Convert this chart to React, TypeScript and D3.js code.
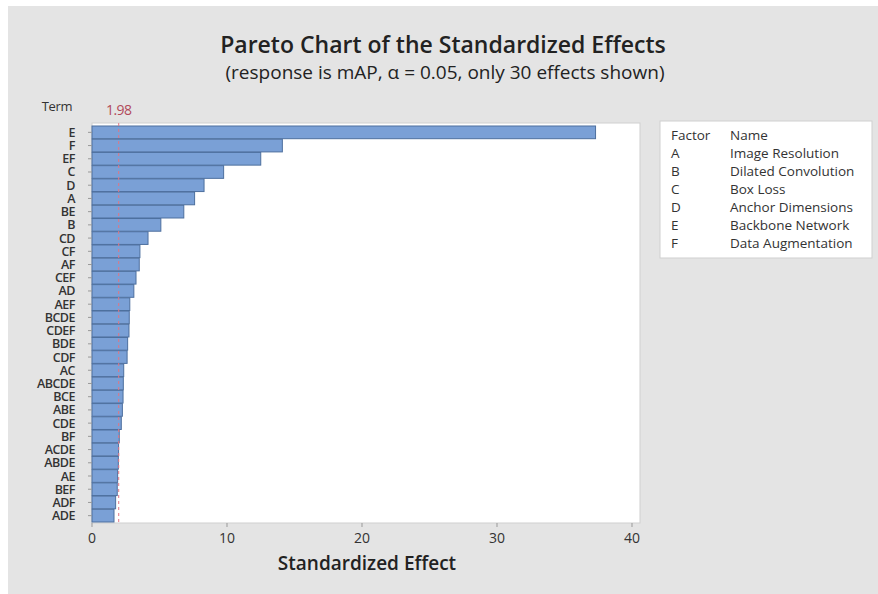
import React from "react";
import * as d3 from "d3";

const terms = ["E","F","EF","C","D","A","BE","B","CD","CF","AF","CEF","AD","AEF","BCDE","CDEF","BDE","CDF","AC","ABCDE","BCE","ABE","CDE","BF","ACDE","ABDE","AE","BEF","ADF","ADE"];
const effects = [37.3,14.1,12.5,9.75,8.3,7.6,6.8,5.1,4.15,3.55,3.5,3.26,3.1,2.8,2.76,2.74,2.64,2.6,2.35,2.32,2.3,2.25,2.17,2.02,1.97,1.95,1.9,1.87,1.75,1.63];
const xTicks = [0,10,20,30,40];
const refValue = 1.98;
const factors = ["A","B","C","D","E","F"];
const factorNames = ["Image Resolution","Dilated Convolution","Box Loss","Anchor Dimensions","Backbone Network","Data Augmentation"];

const W = 878, H = 594;
const plot = { left: 92, right: 640, top: 123, bottom: 523 };
const font = "'Open Sans', 'Noto Sans', sans-serif";

export default function App() {
  const x = d3.scaleLinear().domain([0, 40]).range([92, 632]);
  const y = d3.scaleBand<string>().domain(terms).range([126, 522]).paddingInner(0.04);
  return (
    <svg width={W} height={H} style={{ position: "absolute", left: 0, top: 0 }} fontFamily={font}>
      <rect x={0} y={0} width={W} height={H} fill="#ffffff" />
      <rect x={8} y={6} width={W - 8} height={H - 6} fill="#e4e4e4" />
      <text x={443} y={53} textAnchor="middle" fontSize={23} fontWeight={600} fill="#222">Pareto Chart of the Standardized Effects</text>
      <text x={445} y={79} textAnchor="middle" fontSize={19} fill="#222">(response is mAP, α = 0.05, only 30 effects shown)</text>
      <rect x={plot.left} y={plot.top} width={plot.right - plot.left} height={plot.bottom - plot.top} fill="#ffffff" stroke="#cfcfcf" />
      {terms.map((t, i) => (
        <g key={t}>
          <rect x={x(0)} y={y(t)!} width={x(effects[i]) - x(0)} height={y.bandwidth()} fill="#7aa0d6" stroke="#4d6f9e" strokeWidth={1} />
          <line x1={plot.left - 4} x2={plot.left} y1={y(t)! + y.bandwidth() / 2} y2={y(t)! + y.bandwidth() / 2} stroke="#999" />
          <text x={75} y={y(t)! + y.bandwidth() / 2 + 4.5} textAnchor="end" fontSize={12.5} fontWeight={600} fill="#333" letterSpacing={-0.5}>{t}</text>
        </g>
      ))}
      <line x1={x(refValue)} x2={x(refValue)} y1={plot.top} y2={plot.bottom} stroke="#e07585" strokeDasharray="3,3" strokeWidth={1} />
      <text x={x(refValue)} y={115} textAnchor="middle" fontSize={14} fill="#b24a5a" letterSpacing={-0.5}>1.98</text>
      <text x={57} y={111} textAnchor="middle" fontSize={13} fill="#333" letterSpacing={-0.3}>Term</text>
      {xTicks.map((v) => (
        <g key={v}>
          <line x1={x(v)} x2={x(v)} y1={plot.bottom} y2={plot.bottom + 4} stroke="#999" />
          <text x={x(v)} y={543} textAnchor="middle" fontSize={14} fill="#333">{v}</text>
        </g>
      ))}
      <text x={367} y={570} textAnchor="middle" fontSize={19} fontWeight={600} fill="#222">Standardized Effect</text>
      <rect x={660} y={121} width={212} height={137} fill="#ffffff" stroke="#cfcfcf" />
      <text x={671} y={140} fontSize={13.5} fill="#333">Factor</text>
      <text x={730} y={140} fontSize={13.5} fill="#333">Name</text>
      {factors.map((f, i) => (
        <g key={f}>
          <text x={671} y={158 + i * 17.9} fontSize={13.5} fill="#333">{f}</text>
          <text x={730} y={158 + i * 17.9} fontSize={13.5} fill="#333">{factorNames[i]}</text>
        </g>
      ))}
    </svg>
  );
}
